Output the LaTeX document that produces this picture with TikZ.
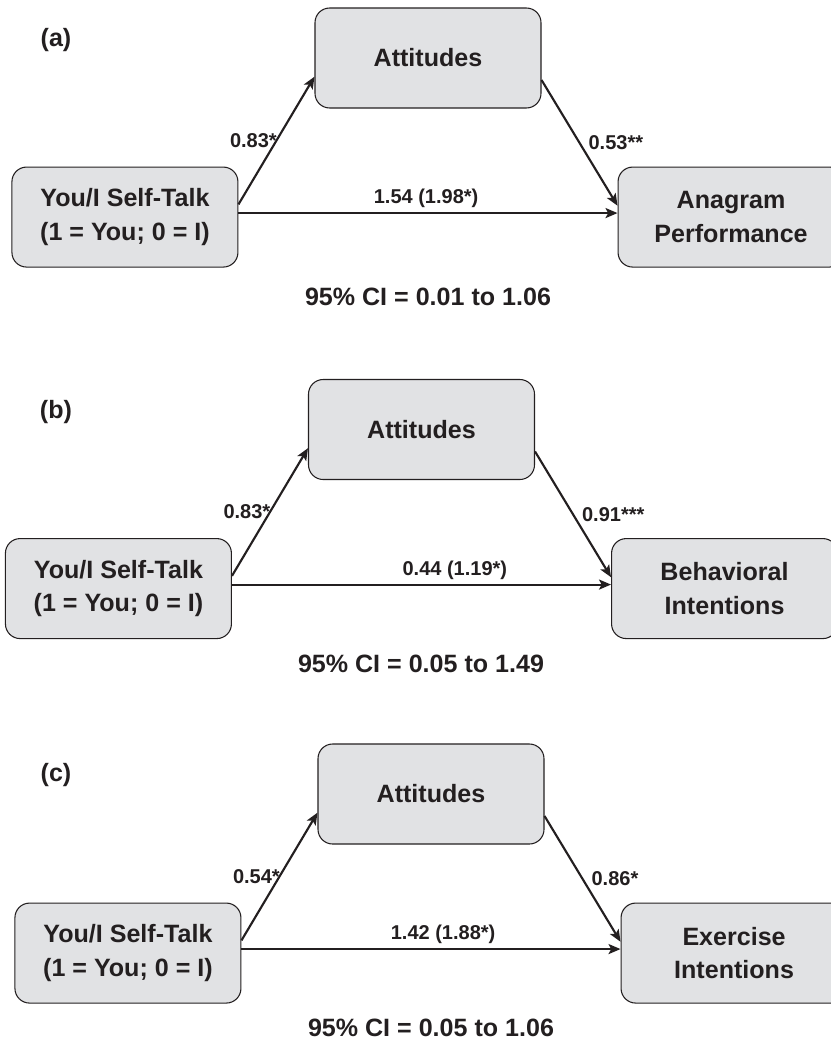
\documentclass[tikz,border=0pt]{standalone}
\usepackage{fontspec}
\setmainfont{Liberation Sans}
\usetikzlibrary{arrows.meta, positioning}
\definecolor{boxgray}{RGB}{225,226,228}
\definecolor{ink}{RGB}{35,31,32}

\begin{document}
\begin{tikzpicture}[
    x=0.75pt, y=-0.75pt,
    % gap between the boxes of one panel
    node distance=43.5pt and 57pt,
    base/.style={align=center, text=ink, font=\fontsize{18.8}{25}\selectfont\bfseries},
    varbox/.style={base, rectangle, rounded corners=11pt, draw=ink, line width=0.8pt, fill=boxgray, minimum width=169.5pt, minimum height=75pt},
    panel/.style={base},
    citext/.style={base},
    coef/.style={text=ink, font=\fontsize{15}{17}\selectfont\bfseries, inner sep=1pt},
    arrow/.style={line width=1.6pt, draw=ink, -{Stealth[length=9pt, width=7.5pt, inset=2pt]}}
]
\useasboundingbox (0,0) rectangle (831,1043);

%% ── (a) Anagram performance ─────────────────────────────────
\node (pa) [panel] at (56,40) {(a)};
\node (atta) [varbox] at (428,58) {Attitudes};
\node (ytalka) [varbox, below left=of atta] {You/I Self-Talk\\(1 = You; 0 = I)};
\node (outa) [varbox, below right=of atta] {Anagram\\Performance};
\node (cia) [citext] at (428,297) {95\% CI = 0.01 to 1.06};

\draw [arrow] ([yshift=9.5pt]ytalka.east) -- node[coef, left=-2pt] {0.83*} ([yshift=-14pt]atta.west);
\draw [arrow] ([yshift=-16.5pt]atta.east) -- node[coef, right=5pt] {0.53**} ([yshift=8.5pt]outa.west);
\draw [arrow] ([yshift=3pt]ytalka.east) -- node[coef, pos=0.495, above=2pt] {1.54 (1.98*)} ([yshift=3pt]outa.west);

%% ── (b) Behavioral intentions ───────────────────────────────
\node (pb) [panel] at (56,412) {(b)};
\node (attb) [varbox] at (421.5,429.5) {Attitudes};
\node (ytalkb) [varbox, below left=of attb] {You/I Self-Talk\\(1 = You; 0 = I)};
\node (outb) [varbox, below right=of attb] {Behavioral\\Intentions};
\node (cib) [citext] at (421,664) {95\% CI = 0.05 to 1.49};

\draw [arrow] ([yshift=9.5pt]ytalkb.east) -- node[coef, left=-2pt] {0.83*} ([yshift=-14pt]attb.west);
\draw [arrow] ([yshift=-16.5pt]attb.east) -- node[coef, right=5pt] {0.91***} ([yshift=8.5pt]outb.west);
\draw [arrow] ([yshift=3pt]ytalkb.east) -- node[coef, pos=0.588, above=2pt] {0.44 (1.19*)} ([yshift=3pt]outb.west);

%% ── (c) Exercise intentions ─────────────────────────────────
\node (pc) [panel] at (56,775) {(c)};
\node (attc) [varbox] at (431,794) {Attitudes};
\node (ytalkc) [varbox, below left=of attc] {You/I Self-Talk\\(1 = You; 0 = I)};
\node (outc) [varbox, below right=of attc] {Exercise\\Intentions};
\node (cic) [citext] at (431,1028) {95\% CI = 0.05 to 1.06};

\draw [arrow] ([yshift=9.5pt]ytalkc.east) -- node[coef, left=-2pt] {0.54*} ([yshift=-14pt]attc.west);
\draw [arrow] ([yshift=-16.5pt]attc.east) -- node[coef, right=5pt] {0.86*} ([yshift=8.5pt]outc.west);
\draw [arrow] ([yshift=3pt]ytalkc.east) -- node[coef, pos=0.532, above=2pt] {1.42 (1.88*)} ([yshift=3pt]outc.west);

\end{tikzpicture}
\end{document}
